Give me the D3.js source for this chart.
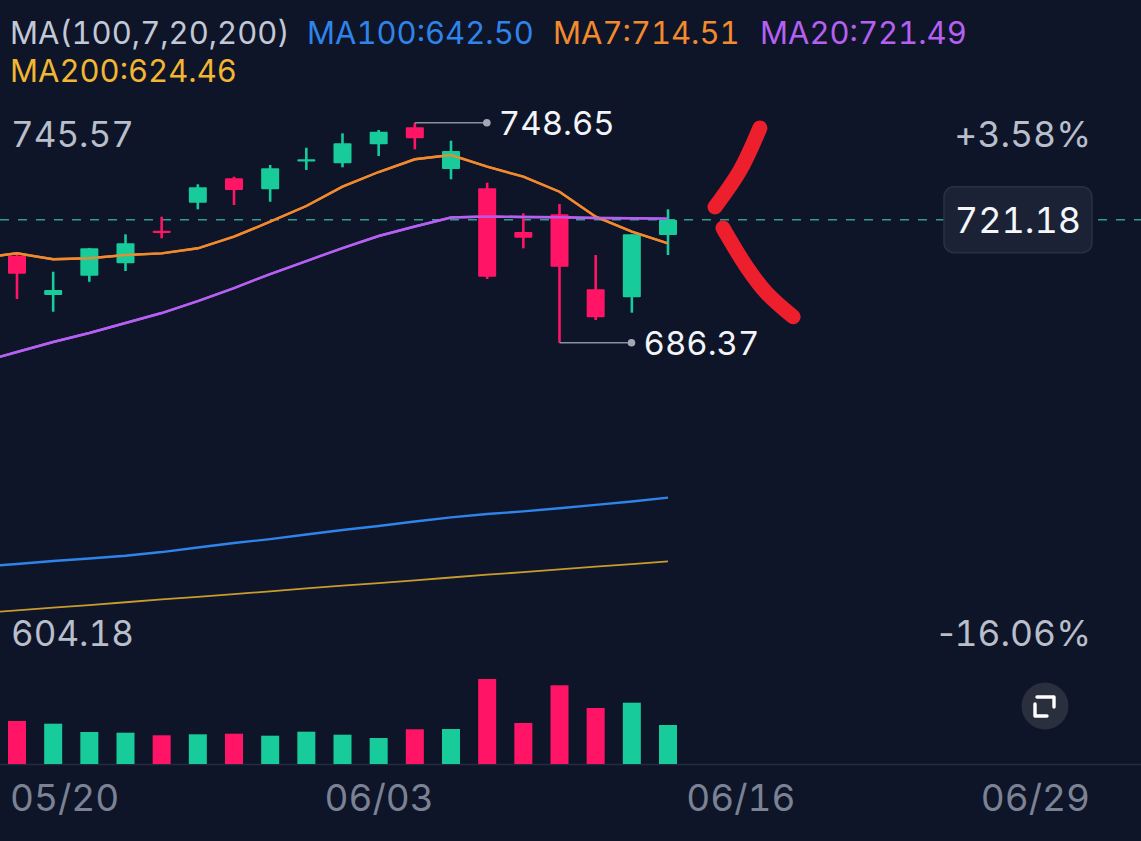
<!DOCTYPE html>
<html><head><meta charset="utf-8">
<script src="https://cdn.jsdelivr.net/npm/d3@7"></script>
<style>
html,body{margin:0;padding:0;background:#0e1528;}
svg{display:block;}
text{font-family:Inter, Roboto, "Noto Sans", sans-serif;font-variant-numeric:tabular-nums;font-feature-settings:"tnum";}
tspan.sign{font-variant-numeric:normal;font-feature-settings:normal;}
</style></head><body>
<svg id="c" width="1141" height="841"></svg>
<script>
// ---- data ----
const openP  = [710.99,699.87,705.33,708.84,718.07,726.00,732.91,729.79,737.81,737.16,742.53,747.35,735.54,730.08,717.70,722.72,701.48,699.22,716.85];
const highP  = [711.48,706.46,713.20,717.05,722.04,731.21,733.36,736.67,741.57,745.65,746.58,748.65,743.55,731.66,723.00,725.63,711.19,717.05,724.13];
const lowP   = [698.73,695.14,703.63,706.66,715.92,724.13,725.35,726.28,735.26,736.02,739.22,741.12,732.63,704.40,713.09,686.37,692.79,694.86,711.19];
const closeP = [705.90,701.28,713.09,714.51,717.51,730.36,729.60,735.74,738.29,742.82,746.10,744.23,740.64,705.05,716.09,707.88,693.55,717.05,721.18];
const volume = [4.30,4.03,3.20,3.13,2.87,2.97,3.03,2.83,3.23,2.93,2.60,3.47,3.50,8.50,4.10,7.87,5.60,6.13,3.90];
// moving averages: first value belongs to the candle just left of the view
const ma7   = [710.34,711.67,709.98,710.26,711.19,711.67,713.09,716.37,720.62,725.07,730.53,734.69,738.29,739.51,736.19,733.36,729.11,722.04,717.79,714.51];
const ma20  = [680.90,683.73,686.56,689.11,691.94,694.77,698.17,701.85,705.81,709.49,713.17,716.57,719.26,721.81,722.09,721.95,721.87,721.67,721.58,721.49];
const ma100 = [623.00,623.71,624.56,625.26,626.06,627.10,628.38,629.65,630.78,632.06,633.33,634.47,635.74,636.93,637.86,638.63,639.51,640.47,641.40,642.50];
const ma200 = [609.80,610.60,611.40,612.10,612.90,613.70,614.40,615.20,616.00,616.80,617.60,618.30,619.10,619.90,620.70,621.40,622.20,623.00,623.70,624.46];
const tickIdx    = [0,10,20,30];
const tickLabels = ["05/20","06/03","06/16","06/29"];
const legendItems = [
  {t:"MA(100,7,20,200)", c:"#c3c8d6"},
  {t:"MA100:642.50", c:"#2f84ea"},
  {t:"MA7:714.51", c:"#f28a2e"},
  {t:"MA20:721.49", c:"#b660f2"}
];
const legendLine2 = {t:"MA200:624.46", c:"#f2b632"};
const lastPrice = 721.18;
const priceMax = 745.57, priceMin = 604.18;
const pctMax = "+3.58%", pctMin = "-16.06%";
const hiVal = 748.65, hiIdx = 11, loVal = 686.37, loIdx = 15;
// hand-drawn annotation, in (index, price) space
const annotTop = [[20.54,747.15],[20.0,735.3],[19.3,724.8]];
const annotBot = [[19.52,718.84],[20.17,707.9],[20.73,700.4],[21.46,693.7]];

// ---- scales ----
const W = 1141, H = 841;
const FONT = "Inter, Roboto, sans-serif";
const svg = d3.select("#c");
const x = d3.scaleLinear().domain([0,18]).range([17,668]);
const y = d3.scaleLinear().domain([loVal,hiVal]).range([342.7,122.7]);
const v = d3.scaleLinear().domain([0,8.5]).range([764,679]);
const UP = "#17cc9a", DOWN = "#ff1466";

svg.append("rect").attr("width",W).attr("height",H).attr("fill","#0e1528");

// legend
const lg = svg.append("g").attr("font-size",31);
const lgX = [10,307,553,760];
legendItems.forEach((d,i)=>{
  lg.append("text").attr("x",lgX[i]).attr("y",44).attr("fill",d.c).text(d.t);
});
lg.append("text").attr("x",10).attr("y",82).attr("fill",legendLine2.c).text(legendLine2.t);

// y-axis labels (left: price, right: percent)
const yAxisL = d3.axisRight(y).tickValues([priceMax,priceMin]).tickSize(0).tickFormat(d3.format(".2f"));
const gl = svg.append("g").attr("transform","translate(8,0)").call(yAxisL);
gl.select(".domain").remove();
gl.selectAll("text").attr("font-size",35).attr("fill","#b9becb").attr("dy","0.36em").style("font-family",FONT);
const pctMap = new Map([[priceMax,pctMax],[priceMin,pctMin]]);
const yAxisR = d3.axisLeft(y).tickValues([priceMax,priceMin]).tickSize(0).tickFormat(d=>pctMap.get(d));
const gr = svg.append("g").attr("transform","translate(1094,0)").call(yAxisR);
gr.select(".domain").remove();
gr.selectAll("text").attr("font-size",35.5).attr("fill","#b9becb").attr("dy","0.36em").style("font-family",FONT)
  .each(function(d){
    const s = pctMap.get(d), t = d3.select(this).text("");
    t.append("tspan").attr("class","sign").text(s[0]);
    t.append("tspan").text(s.slice(1));
  });

// last price dashed line
svg.append("line").attr("x1",0).attr("x2",W).attr("y1",y(lastPrice)).attr("y2",y(lastPrice))
  .attr("stroke","#2f9e90").attr("stroke-width",1.6).attr("stroke-dasharray","9,9");

// clip for lines
svg.append("clipPath").attr("id","clip").append("rect").attr("x",0).attr("y",0).attr("width",W).attr("height",660);
const plot = svg.append("g").attr("clip-path","url(#clip)");

// MA lines
const maLine = d3.line().x((d,i)=>x(i-1)).y(d=>y(d));
[[ma200,"#c99b2e",1.8],[ma100,"#2f84ea",2.4],[ma20,"#b660f2",2.4],[ma7,"#f28a2e",2.4]].forEach(([arr,c,w])=>{
  plot.append("path").attr("d",maLine(arr)).attr("fill","none").attr("stroke",c).attr("stroke-width",w);
});

// candles
const idx = d3.range(openP.length);
const cw = 18;
const cg = plot.append("g");
idx.forEach(i=>{
  const col = closeP[i] >= openP[i] ? UP : DOWN;
  cg.append("line").attr("x1",x(i)).attr("x2",x(i)).attr("y1",y(highP[i])).attr("y2",y(lowP[i]))
    .attr("stroke",col).attr("stroke-width",2.6);
  const top = y(Math.max(openP[i],closeP[i])), bot = y(Math.min(openP[i],closeP[i]));
  cg.append("rect").attr("x",x(i)-cw/2).attr("width",cw).attr("y",top).attr("height",Math.max(bot-top,2.2))
    .attr("fill",col).attr("rx",1);
});
plot.append("path").attr("d",maLine(ma7)).attr("fill","none").attr("stroke","#f28a2e").attr("stroke-width",2.4).attr("opacity",0.9);
plot.append("path").attr("d",maLine(ma20)).attr("fill","none").attr("stroke","#b660f2").attr("stroke-width",2.4).attr("opacity",0.85);

// high / low markers
function marker(i,val){
  const x0 = x(i), yy = y(val), x1 = x0+72;
  svg.append("line").attr("x1",x0).attr("x2",x1).attr("y1",yy).attr("y2",yy).attr("stroke","#8a909e").attr("stroke-width",1.6);
  svg.append("circle").attr("cx",x1).attr("cy",yy).attr("r",3.8).attr("fill","#a3a8b4");
  svg.append("text").attr("x",x1+12).attr("y",yy).attr("dy","0.36em").attr("font-size",33).attr("fill","#f2f4f7").text(d3.format(".2f")(val));
}
marker(hiIdx,hiVal);
marker(loIdx,loVal);

// last price box
const bx = svg.append("g");
bx.append("rect").attr("x",944).attr("y",y(lastPrice)-33).attr("width",148).attr("height",66).attr("rx",10)
  .attr("fill","#1b2236").attr("stroke","#273047").attr("stroke-width",1.5);
bx.append("text").attr("x",1018).attr("y",y(lastPrice)).attr("dy","0.36em").attr("text-anchor","middle")
  .attr("font-size",36).attr("fill","#f4f6f9").text(d3.format(".2f")(lastPrice));

// annotation
const aLine = d3.line().x(d=>x(d[0])).y(d=>y(d[1])).curve(d3.curveCatmullRom);
[annotTop,annotBot].forEach(a=>{
  svg.append("path").attr("d",aLine(a)).attr("fill","none").attr("stroke","#ee1f2d")
    .attr("stroke-width",15).attr("stroke-linecap","round").attr("stroke-linejoin","round");
});

// volume
svg.append("line").attr("x1",0).attr("x2",W).attr("y1",v(0)+0.5).attr("y2",v(0)+0.5).attr("stroke","#252c3f").attr("stroke-width",1.5);
idx.forEach(i=>{
  const col = closeP[i] >= openP[i] ? UP : DOWN;
  svg.append("rect").attr("x",x(i)-9).attr("width",18).attr("y",v(volume[i])).attr("height",v(0)-v(volume[i])).attr("fill",col);
});

// fullscreen icon
const ic = svg.append("g").attr("transform","translate(1045,706)");
ic.append("circle").attr("r",23.5).attr("fill","#2a2f3e");
ic.append("path").attr("d","M-8,-9 H9 V1").attr("fill","none").attr("stroke","#fff").attr("stroke-width",3.4).attr("stroke-linecap","round").attr("stroke-linejoin","round");
ic.append("path").attr("d","M-10,-2 V10 H2").attr("fill","none").attr("stroke","#fff").attr("stroke-width",3.4).attr("stroke-linecap","round").attr("stroke-linejoin","round");

// x axis
const xAxis = d3.axisBottom(x).tickValues(tickIdx).tickSize(0).tickFormat((d,i)=>tickLabels[i]);
const gx = svg.append("g").attr("transform","translate(0,782)").call(xAxis);
gx.select(".domain").remove();
gx.selectAll("text").attr("font-size",37).attr("fill","#7b8294").attr("dy","0.71em").style("font-family",FONT);
gx.selectAll(".tick").each(function(d,i){
  const t = d3.select(this).select("text");
  if (i===0){ d3.select(this).attr("transform","translate(10,0)"); t.attr("text-anchor","start"); }
  if (i===tickIdx.length-1){ d3.select(this).attr("transform","translate(1090,0)"); t.attr("text-anchor","end"); }
});
</script>
</body></html>
